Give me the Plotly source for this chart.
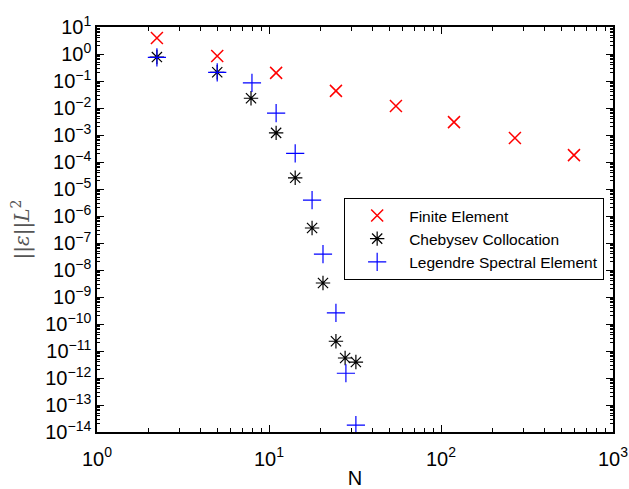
import plotly.graph_objects as go

# Finite Element
fe_N = [2.23, 5.0, 11.0, 24.5, 54.7, 119, 269, 593]
fe_err = [3.9, 0.84, 0.20, 0.043, 0.0119, 0.0030, 7.8e-4, 1.8e-4]

# Chebysev Collocation
cc_N = [2.23, 5.0, 7.86, 11.0, 14.2, 17.8, 20.6, 24.5, 27.7, 32.0]
cc_err = [0.77, 0.21, 0.023, 1.2e-3, 2.6e-5, 3.6e-7, 3.3e-9, 2.3e-11, 5.5e-12, 3.9e-12]

# Legendre Spectral Element
ls_N = [2.23, 5.0, 7.96, 11.0, 14.2, 17.8, 20.6, 24.5, 28.0, 32.0]
ls_err = [0.75, 0.21, 0.085, 6.5e-3, 2.1e-4, 3.9e-6, 3.9e-8, 2.6e-10, 1.5e-12, 1.8e-14]

x_exps = list(range(0, 4))
y_exps = list(range(-14, 2))

def pow_label(e):
    s = str(e).replace("-", "\u2212")
    return "10<sup>" + s + "</sup>"

x_tickvals = [10.0 ** e for e in x_exps]
x_ticktext = [pow_label(e) for e in x_exps]
y_tickvals = [10.0 ** e for e in y_exps]
y_ticktext = [pow_label(e) for e in y_exps]
x_minor = [m * 10.0 ** e for e in x_exps[:-1] for m in range(2, 10)]
y_minor = [m * 10.0 ** e for e in y_exps[:-1] for m in range(2, 10)]

fig = go.Figure()
fig.add_trace(go.Scatter(x=fe_N, y=fe_err, mode="markers", name="Finite Element",
                         marker=dict(symbol="x-thin-open", size=12, color="red",
                                     line=dict(color="red", width=1.5))))
fig.add_trace(go.Scatter(x=cc_N, y=cc_err, mode="markers", name="Chebysev Collocation",
                         marker=dict(symbol="asterisk-open", size=12, color="black",
                                     line=dict(color="black", width=1.2))))
fig.add_trace(go.Scatter(x=ls_N, y=ls_err, mode="markers", name="Legendre Spectral Element",
                         marker=dict(symbol="cross-thin-open", size=13, color="blue",
                                     line=dict(color="blue", width=1.2))))

tick_font = dict(family="Liberation Sans, Arial, sans-serif", size=20, color="black")
axis_common = dict(
    type="log", showgrid=False, zeroline=False, showline=True, mirror="allticks",
    linecolor="black", linewidth=1.5, ticks="inside", ticklen=7, tickcolor="black",
    tickmode="array", tickfont=tick_font, automargin=False,
)

fig.update_xaxes(range=[0, 3], tickvals=x_tickvals, ticktext=x_ticktext,
                 ticklabelstandoff=8,
                 minor=dict(tickvals=x_minor, ticks="inside", ticklen=4, tickcolor="black",
                            showgrid=False),
                 **axis_common,
                 title=dict(text="N", font=tick_font, standoff=10))
fig.update_yaxes(range=[-14, 1], tickvals=y_tickvals, ticktext=y_ticktext,
                 minor=dict(tickvals=y_minor, ticks="inside", ticklen=3, tickcolor="black",
                            showgrid=False),
                 **axis_common,
                 title=dict(text="||<i>ε</i>||<i>L</i><sup>2</sup>",
                            font=dict(family="DejaVu Serif, serif", size=20, color="#555555"),
                            standoff=10))

fig.update_layout(
    width=629, height=489,
    margin=dict(l=97, r=16, t=27, b=57),
    paper_bgcolor="white", plot_bgcolor="white",
    showlegend=True,
    legend=dict(x=0.479, y=0.578, xanchor="left", yanchor="top",
                bgcolor="white", bordercolor="black", borderwidth=1,
                font=dict(family="Liberation Sans, Arial, sans-serif", size=15.5, color="black"),
                itemwidth=54, tracegroupgap=0),
)

fig.write_html("out.html")
